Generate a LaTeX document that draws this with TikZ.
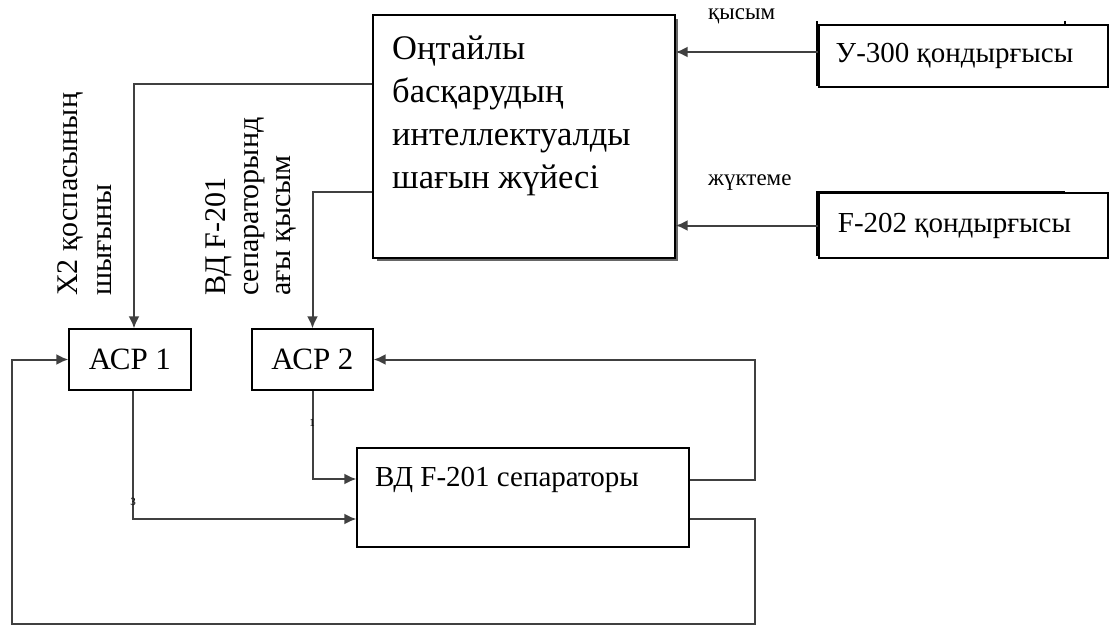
\documentclass[tikz,border=0pt]{standalone}
\usepackage{fontspec}
\setmainfont{Liberation Serif}
\usetikzlibrary{arrows.meta}
\begin{document}
\begin{tikzpicture}[x=1pt,y=-1pt,
  box/.style={draw=black,line width=1.3pt,fill=white,inner sep=0pt},
  conn/.style={draw=black!75,line width=2pt},
  arr/.style={conn,-{Latex[length=12pt,width=11pt]}},
  vtxt/.style={rotate=90,anchor=base west,inner sep=0pt,font=\fontsize{30}{34}\selectfont},
  small/.style={anchor=base west,inner sep=0pt,font=\fontsize{23}{25}\selectfont},
  tiny/.style={inner sep=0pt,font=\fontsize{11}{12}\selectfont},
]
\useasboundingbox (0,0) rectangle (1112,626);

% central unit with its shadow
\fill[black!60] (377,19) rectangle (678,261);
\node[box,minimum width=302pt,minimum height=243pt] (main) at (524,136.5) {};
\node[anchor=base west,align=left,inner sep=0pt,font=\fontsize{34.5}{43}\selectfont] (maintext) at (392,188)
  {Оңтайлы\\басқарудың\\интеллектуалды\\шағын жүйесі};

% input units on the right, each over a second frame
\draw[line width=1.3pt] (817,21) -- (817,86) (1065,21) -- (1065,25);
\node[box,minimum width=289pt,minimum height=62pt] (u300) at (963.5,56)
  {\fontsize{29}{34}\selectfont У-300 қондырғысы\hspace*{18pt}};
\draw[line width=1.3pt] (817,256) -- (817,192) -- (1065,192);
\node[box,minimum width=289pt,minimum height=65pt] (f202) at (963.5,225.5)
  {\fontsize{29}{34}\selectfont F-202 қондырғысы\hspace*{18pt}};

\node[small] (lp) at (708,20) {қысым};
\node[small] (ll) at (708,185) {жүктеме};

% controllers
\node[box,minimum width=122pt,minimum height=61pt] (acp1) at (130,359.5)
  {\fontsize{31}{34}\selectfont АСР 1};
\node[box,minimum width=121pt,minimum height=61pt] (acp2) at (312.5,359.5)
  {\fontsize{31}{34}\selectfont АСР 2};

% separator
\node[box,minimum width=332pt,minimum height=99pt] (sep) at (523,497.5) {};
\node[anchor=base west,inner sep=0pt,font=\fontsize{29}{34}\selectfont] (septext) at (375,486)
  {ВД F-201 сепараторы};

% vertical captions
\node[vtxt] (c1a) at (77,296) {Х2 қоспасының};
\node[vtxt] (c1b) at (111,296) {шығыны};
\node[vtxt] (c2a) at (225,296) {ВД F-201};
\node[vtxt] (c2b) at (258,296) {сепараторынд};
\node[vtxt] (c2c) at (290,296) {ағы қысым};

% signals into the central unit
\coordinate (p1) at ([yshift=4pt]u300.west);
\draw[arr] (p1) -- (p1 -| main.east);
\draw[arr] (f202.west) -- (f202.west -| main.east);

% set points to the controllers
\draw[arr] (main.west |- 0,84) -| ([xshift=4pt]acp1.north);
\draw[arr] (main.west |- 0,192) -| (acp2.north);

% controller outputs to the separator
\draw[arr] ([xshift=3pt]acp1.south) |- (sep.west |- 0,519);
\draw[arr] (acp2.south) |- (sep.west |- 0,479);
\node[tiny] (n1) at (312,423) {1};
\node[tiny] (n3) at (133,502) {3};

% feedback loops
\draw[arr] (sep.east |- 0,480) -| (acp2.east -| 755,0) -- (acp2.east);
\draw[arr] (sep.east |- 0,519) -| (755,624) -| ([xshift=-56pt]acp1.west) -- (acp1.west);
\end{tikzpicture}
\end{document}
